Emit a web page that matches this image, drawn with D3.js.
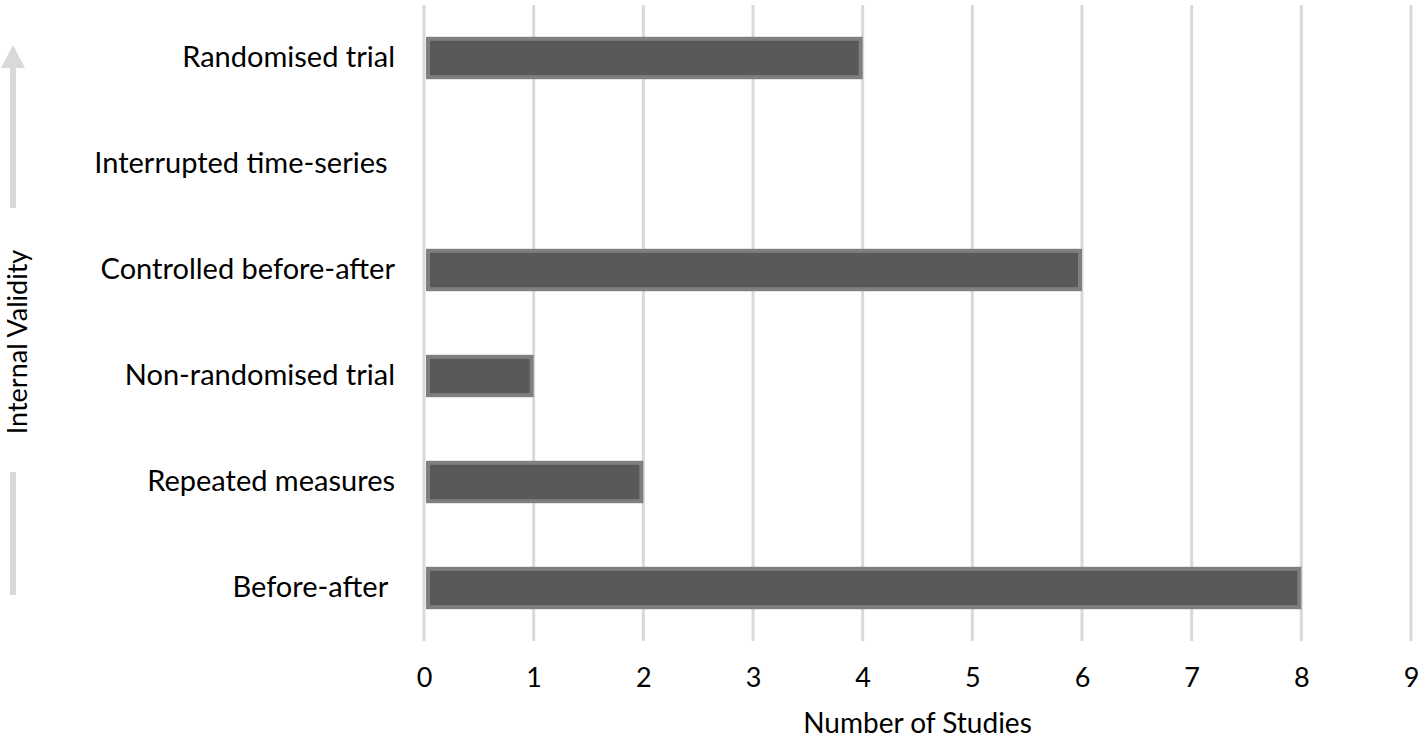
<!DOCTYPE html>
<html>
<head>
<meta charset="utf-8">
<script src="https://cdn.jsdelivr.net/npm/d3@7"></script>
<style>
  body { margin: 0; background: #fff; }
  text { font-family: Lato, "Open Sans", sans-serif; fill: #000; }
</style>
</head>
<body>
<div id="chart"></div>
<script>
// study designs vs number of studies
var categories = ["Randomised trial", "Interrupted time-series ", "Controlled before-after",
  "Non-randomised trial", "Repeated measures", "Before-after "];
var studies = [4, 0, 6, 1, 2, 8];
var xTicks = [0, 1, 2, 3, 4, 5, 6, 7, 8, 9];

var svgWidth = 1424;
var svgHeight = 740;

var margin = { top: 5, right: 13, bottom: 99, left: 424 };
var width = svgWidth - margin.left - margin.right;
var height = svgHeight - margin.top - margin.bottom;

var svg = d3.select("#chart")
  .append("svg")
  .attr("width", svgWidth)
  .attr("height", svgHeight);

var chartGroup = svg.append("g")
  .attr("transform", `translate(${margin.left}, ${margin.top})`);

var xScale = d3.scaleLinear()
  .domain([0, 9])
  .range([0, width]);

var yScale = d3.scaleBand()
  .domain(categories)
  .range([0, height])
  .paddingInner(0.6)
  .paddingOuter(0.3);

var barData = categories.map((c, i) => ({ cat: c, value: studies[i] }));

// vertical gridlines
chartGroup.selectAll(".grid")
  .data(xTicks)
  .enter()
  .append("line")
  .attr("x1", d => xScale(d))
  .attr("x2", d => xScale(d))
  .attr("y1", 0)
  .attr("y2", height)
  .attr("stroke", "#d9d9d9")
  .attr("stroke-width", 3);

// bars (zero bar is not drawn)
chartGroup.selectAll(".bar")
  .data(barData.filter(d => d.value > 0))
  .enter()
  .append("rect")
  .attr("x", xScale(0) + 4)
  .attr("y", d => yScale(d.cat) + 2)
  .attr("width", d => xScale(d.value) - xScale(0) - 6)
  .attr("height", yScale.bandwidth() - 4)
  .attr("fill", "#595959")
  .attr("stroke", "#7f7f7f")
  .attr("stroke-width", 4);

// x axis tick labels
var bottomAxis = d3.axisBottom(xScale)
  .tickValues(xTicks)
  .tickSize(0)
  .tickPadding(0);

var xAxis = chartGroup.append("g")
  .attr("transform", `translate(0, ${height + 27})`)
  .call(bottomAxis);
xAxis.select(".domain").remove();
xAxis.selectAll("text")
  .attr("font-size", "27px")
  .attr("dy", "0.71em");

// category labels
var leftAxis = d3.axisLeft(yScale)
  .tickSize(0)
  .tickPadding(29);

var yAxis = chartGroup.append("g")
  .call(leftAxis);
yAxis.select(".domain").remove();
yAxis.selectAll("text")
  .attr("font-size", "29px")
  .style("white-space", "pre");

// axis titles
svg.append("text")
  .attr("x", margin.left + width / 2)
  .attr("y", 733)
  .attr("text-anchor", "middle")
  .attr("font-size", "28px")
  .text("Number of Studies");

svg.append("text")
  .attr("transform", "rotate(-90)")
  .attr("x", -342)
  .attr("y", 27)
  .attr("text-anchor", "middle")
  .attr("font-size", "27px")
  .text("Internal Validity");

// arrow of validity
svg.append("line")
  .attr("x1", 13).attr("x2", 13)
  .attr("y1", 66).attr("y2", 208)
  .attr("stroke", "#d9d9d9")
  .attr("stroke-width", 6);
svg.append("path")
  .attr("d", "M1,68 L13,45 L25,68 Z")
  .attr("fill", "#d9d9d9");
svg.append("line")
  .attr("x1", 13).attr("x2", 13)
  .attr("y1", 472).attr("y2", 595)
  .attr("stroke", "#d9d9d9")
  .attr("stroke-width", 6);
</script>
</body>
</html>
